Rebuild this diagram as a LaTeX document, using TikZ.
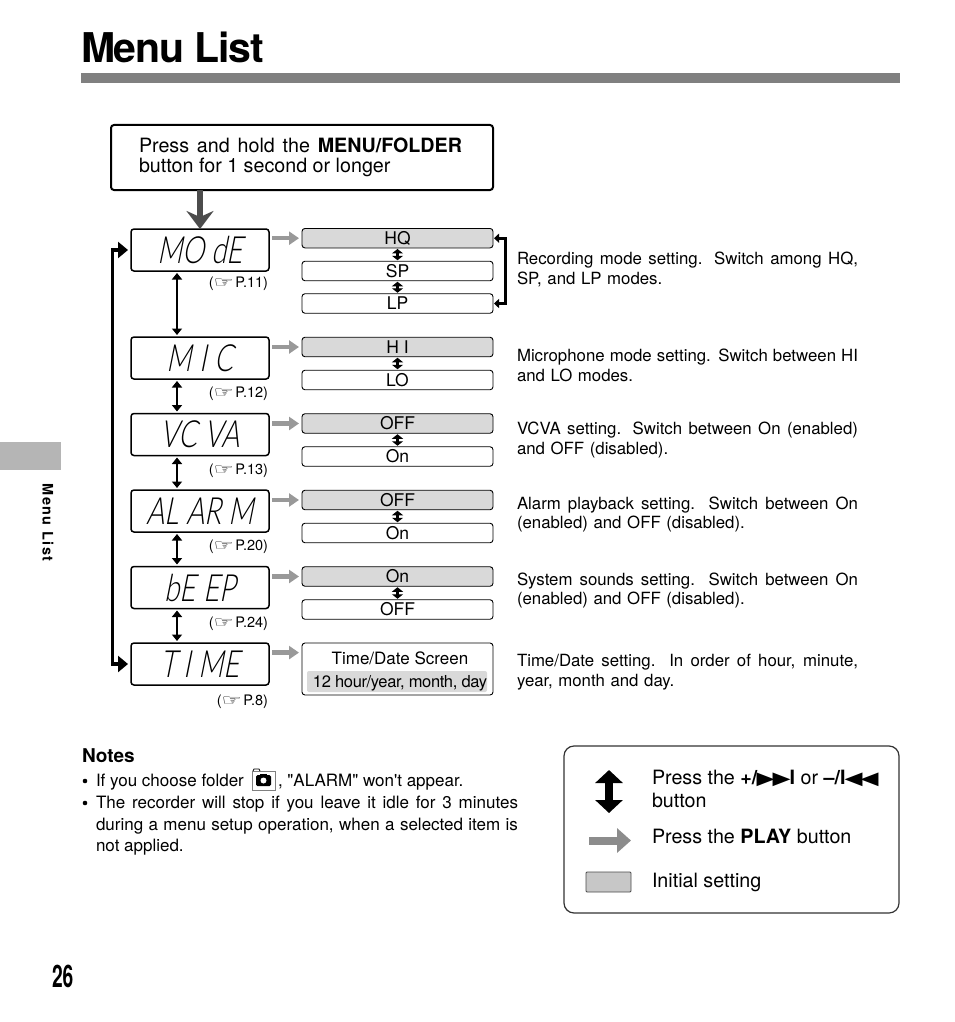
\documentclass[tikz,border=0pt]{standalone}
\usepackage{fontspec}
\setmainfont{TeX Gyre Heros}
\newfontfamily\djv{DejaVu Sans}
\newfontfamily\nq{TeX Gyre Heros}
\newfontfamily\lcdf[FakeSlant=0.2,FakeStretch=0.74]{Lato Light}
\newfontfamily\numf[FakeStretch=0.62]{TeX Gyre Heros Bold}
\usetikzlibrary{arrows.meta,positioning}
\newcommand{\fs}[2]{\fontsize{#1pt}{#2pt}\selectfont}
\newcommand{\jl}[1]{\makebox[341pt][s]{\spaceskip=0pt\xspaceskip=0pt #1}}
\newcommand{\pref}[1]{(\scalebox{1.5}[1]{\djv\fontsize{15pt}{15pt}\selectfont ☞}\kern1.5pt#1)}
\tikzset{
  every node/.style={inner sep=0pt,outer sep=0pt},
  lcdbox/.style={draw=black,line width=1.5pt,rounded corners=3pt,minimum width=138pt,minimum height=42pt,fill=white,font=\lcdf\fs{37.5}{37.5}},
  opt/.style={draw=black,line width=0.9pt,rounded corners=3pt,minimum width=191pt,minimum height=19.5pt,fill=white,font=\fs{17.5}{17.5}},
  optinit/.style={opt,fill=optgray},
  pageref/.style={anchor=base east,font=\fs{14.5}{16}},
  desc/.style={anchor=west,align=left,text width=341pt,font=\fs{16.8}{19.5}},
  grayarrow/.style={draw=arrowgray,line width=4.5pt,-{Triangle[length=10pt,width=13pt]},shorten <=3pt,shorten >=3pt},
  updown/.style={draw=black,line width=2.4pt,{Triangle[length=6.5pt,width=10pt]}-{Triangle[length=6.5pt,width=10pt]},shorten <=2pt,shorten >=2pt},
  smallud/.style={draw=black,line width=2.4pt,{Triangle[length=4.5pt,width=11pt]}-{Triangle[length=4.5pt,width=11pt]},shorten <=1pt,shorten >=1pt},
  loopline/.style={draw=black,line width=3.5pt,-{Triangle[length=10pt,width=16pt]},line join=miter},
  backline/.style={draw=black,line width=3pt,{Triangle[length=5pt,width=9pt]}-{Triangle[length=5pt,width=9pt]},line join=miter},
  plain/.style={anchor=base west,font=\fs{17}{19}},
  legtext/.style={anchor=base west,font=\fs{19.7}{23},align=left}
}
\definecolor{optgray}{gray}{0.85}
\definecolor{arrowgray}{gray}{0.6}
\definecolor{bargray}{gray}{0.5}
\definecolor{tabgray}{gray}{0.71}
\begin{document}
\begin{tikzpicture}[x=1pt,y=-1pt]
\useasboundingbox (0,0) rectangle (954,1022);
\fill[white] (0,0) rectangle (954,1022);
% header
\node[anchor=base west,font=\bfseries\fs{41}{41}] (title) at (81,63) {\addfontfeature{LetterSpace=-3}Menu List};
\fill[bargray] (81,73) rectangle (900,83);
\fill[tabgray] (0,442) rectangle (61,470);
\node[rotate=-90,font=\bfseries\fs{14.5}{14.5}] (tab) at (48,522.5) {\addfontfeature{LetterSpace=10}Menu List};
\node[anchor=base west,font=\bfseries\fs{31}{31}] (num) at (52,987) {\numf 26};
% start box
\node[draw=black,line width=2pt,rounded corners=3pt,minimum width=382pt,minimum height=65pt,fill=white] (start) at (302,157.5) {};
\node[anchor=base west,font=\fs{19.7}{20}] (s1) at (139,152) {\makebox[323pt][s]{Press and hold the \textbf{MENU/FOLDER}}};
\node[anchor=base west,font=\fs{19.7}{20}] (s2) at (139,172) {button for 1 second or longer};
% lcd boxes
\node[lcdbox] (mode) at (200,250) {MO dE};
\node[lcdbox] (mic) at (200,358) {M I C};
\node[lcdbox] (vcva) at (200,434.5) {VC VA};
\node[lcdbox] (alarm) at (200,511) {AL AR M};
\node[lcdbox] (beep) at (200,587.5) {bE EP};
\node[lcdbox] (time) at (200,664) {T I ME};
% options
\node[optinit] (hq) at (397.5,238.2) {HQ};
\node[opt] (sp) at (397.5,271) {SP};
\node[opt] (lp) at (397.5,303.5) {LP};
\node[optinit] (hi) at (397.5,347) {H I};
\node[opt] (lo) at (397.5,380) {LO};
\node[optinit] (off1) at (397.5,423.5) {OFF};
\node[opt] (on1) at (397.5,456.5) {On};
\node[optinit] (off2) at (397.5,500) {OFF};
\node[opt] (on2) at (397.5,533) {On};
\node[optinit] (on3) at (397.5,576.5) {On};
\node[opt] (off3) at (397.5,609.5) {OFF};
\node[opt,minimum height=52pt] (tds) at (397.5,669) {};
\fill[optgray,rounded corners=2pt] (307,671) rectangle (487,692);
\node[anchor=base,font=\fs{17}{18}] (tds1) at (400,664) {Time/Date Screen};
\node[anchor=base,font=\fs{16.5}{18}] (tds2) at (400,687) {\addfontfeature{LetterSpace=-2.2}12 hour/year, month, day};
% page refs
\node[pageref] (p1) at (268,287) {\pref{P.11}};
\node[pageref] (p2) at (268,397) {\pref{P.12}};
\node[pageref] (p3) at (268,474) {\pref{P.13}};
\node[pageref] (p4) at (268,550) {\pref{P.20}};
\node[pageref] (p5) at (268,627) {\pref{P.24}};
\node[pageref] (p6) at (268,705) {\pref{P.8}};
% descriptions
\node[desc] (d1) at (517,269.5) {\jl{Recording mode setting.  Switch among HQ,}\\SP, and LP modes.};
\node[desc] (d2) at (517,365.5) {\jl{Microphone mode setting. Switch between HI}\\and LO modes.};
\node[desc] (d3) at (517,440) {\jl{VCVA setting.  Switch between On (enabled)}\\and OFF (disabled).};
\node[desc] (d4) at (517,514.5) {\jl{Alarm playback setting.  Switch between On}\\(enabled) and OFF (disabled).};
\node[desc] (d5) at (517,590.5) {\jl{System sounds setting. Switch between On}\\(enabled) and OFF (disabled).};
\node[desc] (d6) at (517,672) {\jl{Time/Date setting.  In order of hour, minute,}\\year, month and day.};
% connectors
\draw[draw=black!70,line width=6.5pt,-{Stealth[length=18pt,width=27pt,inset=6pt]}] (start.south -| 200,0) -- (mode.north);
\draw[grayarrow] (mode.east |- hq.west) -- (hq.west);
\draw[grayarrow] (mic.east |- hi.west) -- (hi.west);
\draw[grayarrow] (vcva.east |- off1.west) -- (off1.west);
\draw[grayarrow] (alarm.east |- off2.west) -- (off2.west);
\draw[grayarrow] (beep.east |- on3.west) -- (on3.west);
\coordinate (tdsin) at (302,652.6);
\draw[grayarrow] (time.east |- tdsin) -- (tdsin);
\foreach \a/\b in {mode/mic,mic/vcva,vcva/alarm,alarm/beep,beep/time}{
  \draw[updown] (\a.south -| 177,0) -- (\b.north -| 177,0);
}
\draw[smallud] (hq.south) -- (sp.north);
\draw[smallud] (sp.south) -- (lp.north);
\draw[smallud] (hi.south) -- (lo.north);
\draw[smallud] (off1.south) -- (on1.north);
\draw[smallud] (off2.south) -- (on2.north);
\draw[smallud] (on3.south) -- (off3.north);
\coordinate (lpup) at (112.7,250);
\coordinate (lpdn) at (112.7,664);
\draw[loopline] (lpdn) -- (lpup) -- ([xshift=-3pt]mode.west);
\draw[loopline] (lpup) -- (lpdn) -- ([xshift=-3pt]time.west);
\coordinate (bk) at (505,0);
\draw[backline] ([xshift=1pt]hq.east) -- (hq.east -| bk) -- (lp.east -| bk) -- ([xshift=1pt]lp.east);
% notes
\node[anchor=base west,font=\bfseries\fs{19}{20}] (notes) at (82,762) {Notes};
\fill[black] (85,781) circle (2.3pt);
\node[plain] (n1a) at (96,786) {If you choose folder};
\draw[gray,line width=0.8pt] (252,790) rectangle (275,771);
\draw[black,line width=0.8pt] (253,771) -- (254,769) -- (259,769) -- (260,771);
\fill[black,rounded corners=1.5pt] (256,775) rectangle (271,786);
\fill[black] (260,774) rectangle (267,776);
\fill[white] (263.5,780.5) circle (3pt);
\node[plain] (n1b) at (278,786) {\nq, "ALARM" won't appear.};
\fill[black] (85,803) circle (2.3pt);
\node[plain,anchor=base west] (n2) at (96,808) {\makebox[422pt][s]{The recorder will stop if you leave it idle for 3 minutes}};
\node[plain] (n3) at (96,830) {\makebox[422pt][s]{during a menu setup operation, when a selected item is}};
\node[plain] (n4) at (96,851) {not applied.};
% legend
\node[draw=black!80,line width=1.2pt,rounded corners=10pt,minimum width=335pt,minimum height=167pt] (legend) at (731.5,829.5) {};
\coordinate (la1) at (609,770);
\coordinate (la2) at (609,813);
\draw[draw=black,line width=8pt,{Triangle[length=13pt,width=27pt]}-{Triangle[length=13pt,width=27pt]}] (la1) -- (la2);
\coordinate (lb1) at (589,840.5);
\coordinate (lb2) at (631,840.5);
\draw[draw=black!45,line width=8pt,-{Triangle[length=14pt,width=24pt]}] (lb1) -- (lb2);
\node[draw=black!70,line width=0.8pt,fill=black!22,rounded corners=1pt,minimum width=45pt,minimum height=20pt] (swatch) at (608.5,882) {};
\node[legtext] (l1) at (652,784) {Press the \textbf{+/}\kern-1pt\scalebox{1.3}[1]{\djv\fs{18}{18}▶\kern-1.5pt▶}\textbf{\kern-1ptI} or \textbf{–/I}\kern-1pt\scalebox{1.3}[1]{\djv\fs{18}{18}◀\kern-1.5pt◀}};
\node[legtext] (l2) at (652,807) {button};
\node[legtext] (l3) at (652,843) {Press the \textbf{PLAY} button};
\node[legtext] (l4) at (652,887) {Initial setting};
\end{tikzpicture}
\end{document}
